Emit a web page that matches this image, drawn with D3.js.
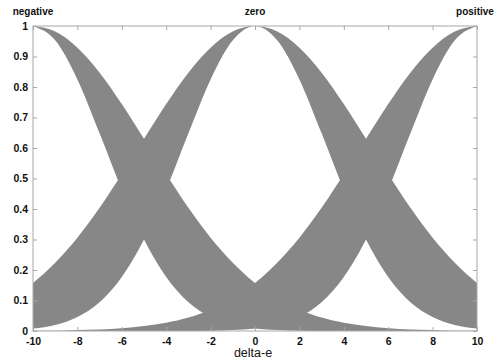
<!DOCTYPE html>
<html>
<head>
<meta charset="utf-8">
<script src="https://cdn.jsdelivr.net/npm/d3@7"></script>
<style>
    body { margin: 0; background: #fff; }
    svg { display: block; }
</style>
</head>
<body>
<div id="chart"></div>
<script>
// delta-e sample points
const xs = [-10, -9, -8, -7, -6, -5, -4, -3, -2, -1, 0, 1, 2, 3, 4, 5, 6, 7, 8, 9, 10];

// membership grades (upper / lower bound of each set)
const negUpper  = [1, 0.982, 0.929, 0.847, 0.744, 0.630, 0.514, 0.404, 0.306, 0.224, 0.157, 0.107, 0.070, 0.044, 0.027, 0.016, 0.009, 0.005, 0.003, 0.001, 0.001];
const negLower  = [1, 0.953, 0.825, 0.648, 0.463, 0.300, 0.177, 0.094, 0.046, 0.020, 0.008, 0.003, 0.001, 0, 0, 0, 0, 0, 0, 0, 0];
const zeroUpper = [0.157, 0.224, 0.306, 0.404, 0.514, 0.630, 0.744, 0.847, 0.929, 0.982, 1, 0.982, 0.929, 0.847, 0.744, 0.630, 0.514, 0.404, 0.306, 0.224, 0.157];
const zeroLower = [0.008, 0.020, 0.046, 0.094, 0.177, 0.300, 0.463, 0.648, 0.825, 0.953, 1, 0.953, 0.825, 0.648, 0.463, 0.300, 0.177, 0.094, 0.046, 0.020, 0.008];
const posUpper  = [0.001, 0.001, 0.003, 0.005, 0.009, 0.016, 0.027, 0.044, 0.070, 0.107, 0.157, 0.224, 0.306, 0.404, 0.514, 0.630, 0.744, 0.847, 0.929, 0.982, 1];
const posLower  = [0, 0, 0, 0, 0, 0, 0, 0, 0.001, 0.003, 0.008, 0.020, 0.046, 0.094, 0.177, 0.300, 0.463, 0.648, 0.825, 0.953, 1];

const setNames = ['negative', 'zero', 'positive'];
const setCenters = [-10, 0, 10];
const xTicks = [-10, -8, -6, -4, -2, 0, 2, 4, 6, 8, 10];
const yTicks = [0, 0.1, 0.2, 0.3, 0.4, 0.5, 0.6, 0.7, 0.8, 0.9, 1];

const width = 495;
const height = 363;
const padding = { top: 26, right: 18, bottom: 32, left: 33 };

const xScale = d3.scaleLinear()
    .domain([-10, 10])
    .range([padding.left, width - padding.right]);

const yScale = d3.scaleLinear()
    .domain([0, 1])
    .range([height - padding.bottom, padding.top]);

const svg = d3.select('#chart')
    .append('svg')
    .attr('width', width)
    .attr('height', height);

// footprints of uncertainty
const sets = [
    { upper: negUpper, lower: negLower },
    { upper: zeroUpper, lower: zeroLower },
    { upper: posUpper, lower: posLower }
];

const area = d3.area()
    .x(d => xScale(d.x))
    .y0(d => yScale(d.lo))
    .y1(d => yScale(d.hi))
    .curve(d3.curveMonotoneX);

svg.append('g')
    .selectAll('path')
    .data(sets)
    .enter()
    .append('path')
    .attr('d', s => area(xs.map((x, i) => ({ x: x, lo: s.lower[i], hi: s.upper[i] }))))
    .attr('fill', '#878787');

// axes box with inward ticks
const axisColor = '#a8a8a8';
const x0 = xScale(-10), x1 = xScale(10), y0 = yScale(0), y1 = yScale(1);

function styleAxis(g) {
    g.select('.domain').remove();
    g.selectAll('.tick line').attr('stroke', axisColor);
    g.selectAll('.tick text')
        .attr('fill', '#111')
        .attr('font-family', 'Liberation Sans, Arial, sans-serif')
        .attr('font-weight', 'bold')
        .attr('font-size', '10.5px');
}

svg.append('g')
    .attr('transform', 'translate(0,' + y0 + ')')
    .call(d3.axisBottom(xScale).tickValues(xTicks).tickSize(-4).tickPadding(7).tickFormat(d => String(d)))
    .call(styleAxis);

svg.append('g')
    .attr('transform', 'translate(0,' + y1 + ')')
    .call(d3.axisTop(xScale).tickValues(xTicks).tickSize(-4).tickFormat(''))
    .call(styleAxis);

svg.append('g')
    .attr('transform', 'translate(' + x0 + ',0)')
    .call(d3.axisLeft(yScale).tickValues(yTicks).tickSize(-4).tickPadding(5).tickFormat(d => String(d)))
    .call(styleAxis);

svg.append('g')
    .attr('transform', 'translate(' + x1 + ',0)')
    .call(d3.axisRight(yScale).tickValues(yTicks).tickSize(-4).tickFormat(''))
    .call(styleAxis);

svg.append('rect')
    .attr('x', x0)
    .attr('y', y1)
    .attr('width', x1 - x0)
    .attr('height', y0 - y1)
    .attr('fill', 'none')
    .attr('stroke', axisColor)
    .attr('stroke-width', 1);

// set names above the plot
svg.append('g')
    .selectAll('text')
    .data(setNames)
    .enter()
    .append('text')
    .attr('x', (d, i) => Math.min(Math.max(xScale(setCenters[i]), 31), width - 20))
    .attr('y', 15)
    .attr('text-anchor', 'middle')
    .attr('font-family', 'Liberation Sans, Arial, sans-serif')
    .attr('font-weight', 'bold')
    .attr('font-size', '10px')
    .attr('fill', '#111')
    .text(d => d);

// x label
svg.append('text')
    .attr('x', xScale(0) - 2)
    .attr('y', 357)
    .attr('text-anchor', 'middle')
    .attr('font-family', 'Liberation Sans, Arial, sans-serif')
    .attr('font-size', '12.5px')
    .attr('fill', '#111')
    .text('delta-e');
</script>
</body>
</html>
